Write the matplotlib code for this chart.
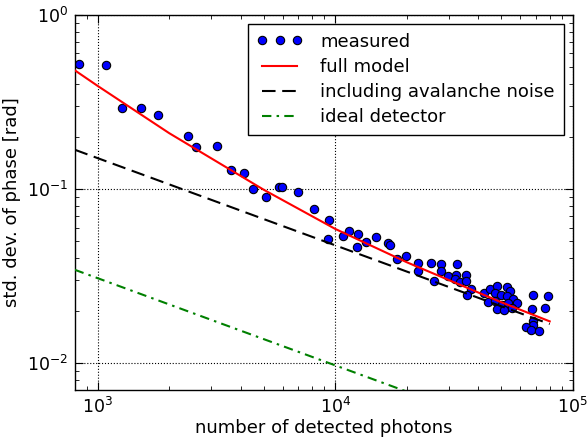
"""Phase noise vs. number of detected photons (log-log), measured points and noise models."""
import matplotlib
matplotlib.use("Agg")
import matplotlib.pyplot as plt

OUT = "out.png"

# measured points
photons = [
    834, 1081, 1269, 1522, 1795, 2407, 2586, 3189, 3652, 4119,
    4507, 5112, 5817, 5953, 6953, 8101, 9372, 9343, 10755, 11454,
    12502, 12330, 13441, 14853, 16684, 17011, 18238, 19866, 22365, 22365,
    25196, 27810, 27760, 32580, 25980, 29940, 32260, 31950, 33630, 35620,
    35370, 37420, 35720, 42410, 44860, 48140, 52740, 54450, 47080, 49900,
    52740, 56220, 58440, 44120, 47080, 50230, 53560, 47860, 51350, 55360,
    67860, 78700, 67210, 76290, 67720, 68250, 63610, 66740, 72260,
]
phase_std = [
    0.524, 0.515, 0.293, 0.292, 0.266, 0.2026, 0.1752, 0.1768, 0.1283, 0.1227,
    0.1003, 0.0902, 0.1029, 0.1020, 0.0955, 0.0768, 0.0660, 0.0515, 0.0534, 0.0571,
    0.0551, 0.0462, 0.0495, 0.0532, 0.0490, 0.0479, 0.0394, 0.0413, 0.0374, 0.0340,
    0.0375, 0.0371, 0.0339, 0.0370, 0.0297, 0.0316, 0.0321, 0.0305, 0.0293, 0.0321,
    0.0296, 0.0267, 0.0248, 0.0254, 0.0266, 0.0276, 0.0274, 0.0259, 0.0253, 0.0248,
    0.0242, 0.0235, 0.0222, 0.0224, 0.0227, 0.0217, 0.0222, 0.0205, 0.0203, 0.0208,
    0.0247, 0.0242, 0.0205, 0.0207, 0.01745, 0.01667, 0.0161, 0.01543, 0.01535,
]

# model curves
model_n = [800, 1000, 2000, 5000, 10000, 20000, 50000, 80000]
full_model = [0.48, 0.39, 0.209, 0.099, 0.059, 0.038, 0.0224, 0.0174]
line_n = [800, 80000]
avalanche = [0.168, 0.0168]
ideal = [0.0344, 0.00344]

LABELS = ["measured", "full model", "including avalanche noise", "ideal detector"]
FS = 13


def main():
    plt.rcParams["font.family"] = ["DejaVu Sans"]
    plt.rcParams["font.size"] = FS
    plt.rcParams["mathtext.fontset"] = "dejavusans"

    fig = plt.figure(figsize=(5.87, 4.41), dpi=100)
    ax = fig.add_axes([0.1273, 0.1150, 0.8484, 0.8517])

    ax.plot(photons, phase_std, "o", color="#0000ff", markeredgecolor="black",
            markeredgewidth=0.8, markersize=6, label=LABELS[0], zorder=2)
    ax.plot(model_n, full_model, "-", color="#ff0000", lw=1.5, label=LABELS[1], zorder=3)
    ax.plot(line_n, avalanche, color="black", lw=1.5, dashes=(6.5, 3.2), label=LABELS[2], zorder=3)
    ax.plot(line_n, ideal, color="#008000", lw=1.5, dashes=(4.5, 2.5, 1.2, 2.5), label=LABELS[3], zorder=3)

    ax.set_xscale("log")
    ax.set_yscale("log")
    ax.set_xlim(800, 1e5)
    ax.set_ylim(7e-3, 1)

    ax.grid(True, which="major", color="black", linestyle=":", linewidth=0.8)
    ax.tick_params(which="both", direction="in", top=True, right=True, labelsize=12.5)
    ax.tick_params(which="major", length=6, pad=5)
    ax.tick_params(which="minor", length=3)
    for s in ax.spines.values():
        s.set_linewidth(1.0)

    ax.set_xlabel("number of detected photons", fontsize=FS, labelpad=1)
    ax.set_ylabel("std. dev. of phase [rad]", fontsize=FS, labelpad=4)

    leg = ax.legend(loc="upper right", numpoints=3, handlelength=2.5, handletextpad=1.0,
                    borderpad=0.5, fontsize=FS, fancybox=False, framealpha=1,
                    borderaxespad=0.5, labelspacing=0.4)
    leg.get_frame().set_edgecolor("black")
    leg.get_frame().set_linewidth(1.0)

    fig.savefig(OUT, dpi=100)
    plt.close(fig)


if __name__ == "__main__":
    main()
